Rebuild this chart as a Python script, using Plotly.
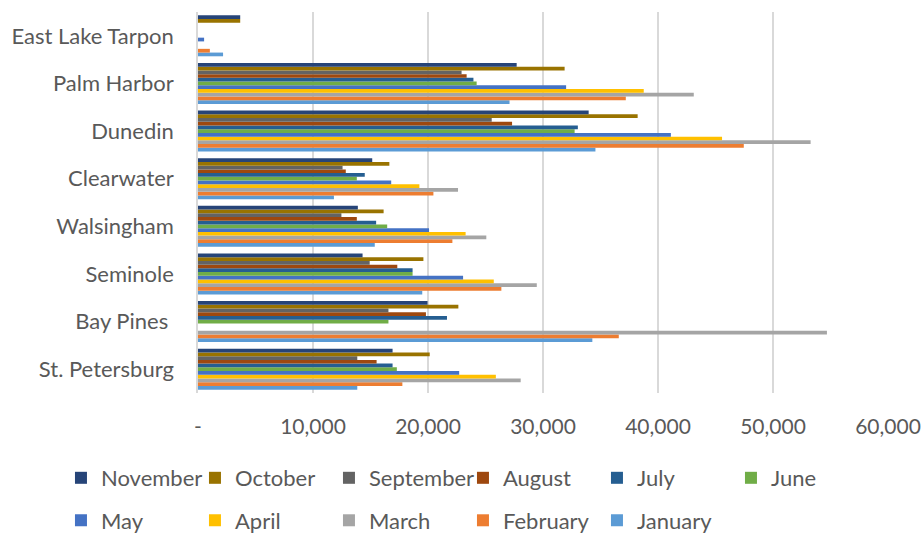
import plotly.graph_objects as go

categories = ["St. Petersburg", "Bay Pines ", "Seminole", "Walsingham",
              "Clearwater", "Dunedin", "Palm Harbor", "East Lake Tarpon"]

months = ["January", "February", "March", "April", "May", "June",
          "July", "August", "September", "October", "November"]

# values per month, in category order above
january   = [13850, 34290, 19500, 15370, 11820, 34560, 27090, 2180]
february  = [17770, 36590, 26380, 22120, 20470, 47460, 37200, 1030]
march     = [28060, 54690, 29460, 25070, 22610, 53270, 43110, 0]
april     = [25900, 0, 25720, 23270, 19250, 45570, 38760, 0]
may       = [22710, 0, 23050, 20090, 16800, 41120, 32010, 530]
june      = [17290, 16560, 18660, 16450, 13810, 32750, 24230, 0]
july      = [16920, 21650, 18660, 15490, 14500, 33030, 23950, 0]
august    = [15530, 19820, 17330, 13810, 12850, 27310, 23360, 0]
september = [13850, 16560, 14930, 12470, 12570, 25540, 22920, 0]
october   = [20150, 22640, 19600, 16140, 16640, 38230, 31880, 3670]
november  = [16920, 19960, 14310, 13900, 15150, 33970, 27710, 3670]

series = [january, february, march, april, may, june,
          july, august, september, october, november]

colors = ["#5B9BD5", "#ED7D31", "#A5A5A5", "#FFC000", "#4472C4", "#70AD47",
          "#255E91", "#9E480E", "#636363", "#997300", "#264478"]

tick_vals = [0, 10000, 20000, 30000, 40000, 50000, 60000]
tick_text = ["-", "10,000", "20,000", "30,000", "40,000", "50,000", "60,000"]

FONT = "Lato, 'Open Sans', sans-serif"
GRAY = "#595959"

fig = go.Figure()
for i, (m, vals, c) in enumerate(zip(months, series, colors)):
    fig.add_trace(go.Bar(
        y=categories, x=vals, name=m, orientation="h",
        marker=dict(color=c, line=dict(width=0)),
        legend="legend" if i >= 5 else "legend2",
        hoverinfo="skip",
    ))

legend_common = dict(
    orientation="h", traceorder="reversed",
    font=dict(family=FONT, size=22, color=GRAY),
    entrywidth=89, entrywidthmode="pixels",
    xanchor="left", yanchor="middle",
    bgcolor="rgba(0,0,0,0)", itemclick=False, itemdoubleclick=False,
)

fig.update_layout(
    width=923, height=534,
    margin=dict(l=198, r=35, t=12, b=141, autoexpand=False),
    paper_bgcolor="white", plot_bgcolor="white",
    barmode="group", bargap=0.14, bargroupgap=0,
    font=dict(family=FONT, color=GRAY),
    xaxis=dict(
        range=[0, 60000], tickvals=tick_vals, ticktext=tick_text,
        showgrid=True, gridcolor="#D9D9D9", gridwidth=1.5,
        zeroline=False, showline=False, ticks="",
        ticklabelstandoff=19, automargin=False,
        tickfont=dict(family=FONT, size=21, color=GRAY),
    ),
    yaxis=dict(
        categoryorder="array", categoryarray=categories,
        showgrid=False, zeroline=False,
        showline=True, linecolor="#D9D9D9", linewidth=1.5,
        ticks="", ticklabelstandoff=18, automargin=False,
        tickfont=dict(family=FONT, size=22, color=GRAY),
    ),
    legend=dict(legend_common, x=-0.1986, y=-0.2231),
    legend2=dict(legend_common, x=-0.1986, y=-0.3346),
    showlegend=True,
)

fig.write_html("out.html", config={"displayModeBar": False},
               post_script="document.body.style.margin='0px';")
